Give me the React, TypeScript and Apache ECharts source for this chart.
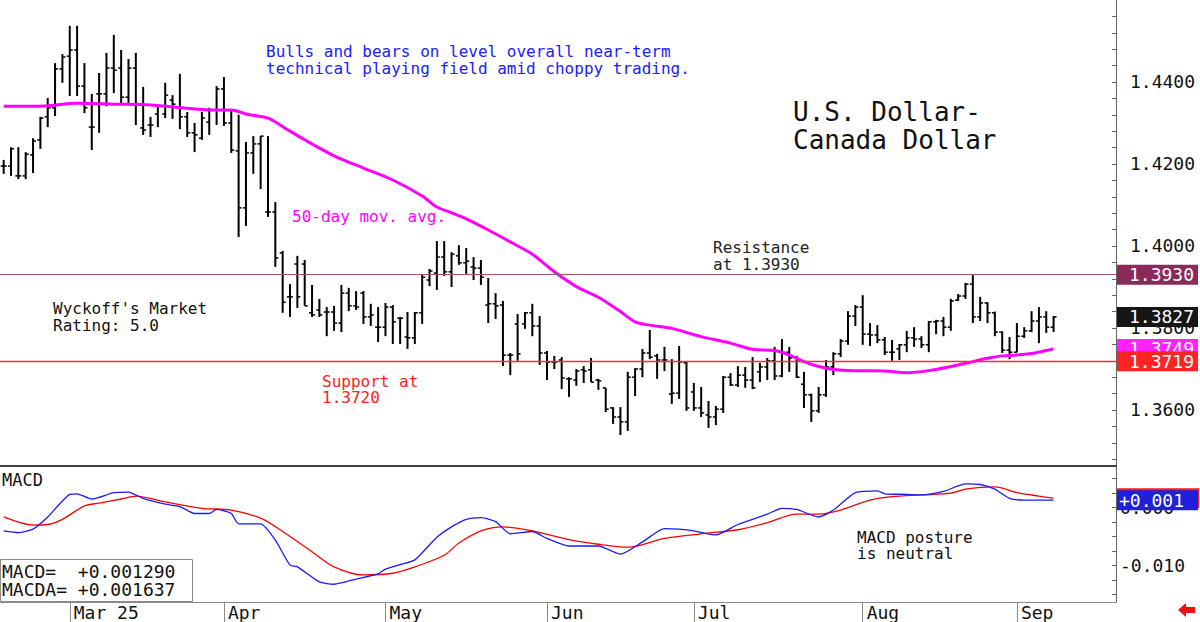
import React, { useEffect, useRef } from "react";
import * as echarts from "echarts";

// ---- DATA ----
const slotCount = 152; // trading-day slots across the plot (bars + empty room on the right)
const categories = Array.from({ length: slotCount }, (_, i) => String(i));
const monthLabels = ["Mar 25", "Apr", "May", "Jun", "Jul", "Aug", "Sep"];
const monthStartIdx = [9, 30, 52, 74, 94, 117, 138];

const opens = [
  1.4195, 1.4195, 1.4171, 1.4171, 1.4222, 1.4259, 1.4315, 1.4337, 1.4432, 1.4463,
  1.4478, 1.4390, 1.4290, 1.4371, 1.4371, 1.4434, 1.4434, 1.4363, 1.4434, 1.4288,
  1.4295, 1.4322, 1.4322, 1.4356, 1.4339, 1.4315, 1.4276, 1.4263, 1.4302, 1.4332,
  1.4383, 1.4300, 1.4232, 1.4093, 1.4227, 1.4249, 1.4083, 1.4083, 1.3983, 1.3876,
  1.3956, 1.3956, 1.3837, 1.3844, 1.3839, 1.3839, 1.3812, 1.3885, 1.3854, 1.3885,
  1.3827, 1.3802, 1.3802, 1.3851, 1.3824, 1.3778, 1.3776, 1.3837, 1.3917, 1.3934,
  1.3973, 1.3937, 1.3976, 1.3959, 1.3949, 1.3946, 1.3856, 1.3859, 1.3856, 1.3734,
  1.3810, 1.3810, 1.3837, 1.3805, 1.3739, 1.3717, 1.3722, 1.3676, 1.3673, 1.3698,
  1.3698, 1.3673, 1.3654, 1.3605, 1.3583, 1.3571, 1.3680, 1.3700, 1.3739, 1.3732,
  1.3722, 1.3639, 1.3641, 1.3715, 1.3644, 1.3605, 1.3588, 1.3583, 1.3602, 1.3680,
  1.3661, 1.3685, 1.3673, 1.3693, 1.3705, 1.3720, 1.3683, 1.3741, 1.3727, 1.3663,
  1.3637, 1.3598, 1.3637, 1.3705, 1.3737, 1.3768, 1.3829, 1.3851, 1.3785, 1.3783,
  1.3771, 1.3741, 1.3749, 1.3759, 1.3776, 1.3773, 1.3759, 1.3815, 1.3817, 1.3802,
  1.3868, 1.3878, 1.3907, 1.3827, 1.3861, 1.3837, 1.3790, 1.3746, 1.3741, 1.3780,
  1.3793, 1.3817, 1.3827, 1.3802,
];
const highs = [
  1.4210, 1.4241, 1.4241, 1.4229, 1.4263, 1.4315, 1.4361, 1.4446, 1.4468, 1.4537,
  1.4537, 1.4446, 1.4371, 1.4422, 1.4471, 1.4515, 1.4478, 1.4456, 1.4471, 1.4388,
  1.4315, 1.4341, 1.4398, 1.4368, 1.4420, 1.4327, 1.4300, 1.4327, 1.4337, 1.4390,
  1.4412, 1.4332, 1.4320, 1.4254, 1.4268, 1.4268, 1.4268, 1.4107, 1.3988, 1.3907,
  1.3976, 1.3966, 1.3905, 1.3871, 1.3851, 1.3854, 1.3905, 1.3898, 1.3890, 1.3890,
  1.3859, 1.3851, 1.3861, 1.3856, 1.3827, 1.3839, 1.3839, 1.3932, 1.3944, 1.4012,
  1.4012, 1.3985, 1.4002, 1.3995, 1.3973, 1.3966, 1.3922, 1.3885, 1.3866, 1.3739,
  1.3834, 1.3839, 1.3859, 1.3829, 1.3744, 1.3732, 1.3729, 1.3680, 1.3700, 1.3707,
  1.3727, 1.3676, 1.3654, 1.3607, 1.3607, 1.3693, 1.3702, 1.3749, 1.3795, 1.3737,
  1.3754, 1.3724, 1.3756, 1.3717, 1.3666, 1.3656, 1.3622, 1.3610, 1.3683, 1.3690,
  1.3707, 1.3705, 1.3729, 1.3715, 1.3727, 1.3754, 1.3773, 1.3754, 1.3732, 1.3693,
  1.3640, 1.3656, 1.3722, 1.3741, 1.3773, 1.3841, 1.3856, 1.3880, 1.3812, 1.3807,
  1.3778, 1.3771, 1.3761, 1.3793, 1.3802, 1.3780, 1.3817, 1.3820, 1.3827, 1.3871,
  1.3883, 1.3910, 1.3929, 1.3876, 1.3863, 1.3840, 1.3792, 1.3778, 1.3812, 1.3802,
  1.3841, 1.3851, 1.3841, 1.3829,
];
const lows = [
  1.4176, 1.4171, 1.4163, 1.4163, 1.4178, 1.4237, 1.4290, 1.4317, 1.4398, 1.4366,
  1.4366, 1.4324, 1.4234, 1.4276, 1.4341, 1.4373, 1.4349, 1.4349, 1.4295, 1.4271,
  1.4266, 1.4290, 1.4312, 1.4310, 1.4285, 1.4266, 1.4229, 1.4259, 1.4271, 1.4295,
  1.4293, 1.4227, 1.4022, 1.4049, 1.4176, 1.4139, 1.4071, 1.3949, 1.3837, 1.3827,
  1.3849, 1.3854, 1.3827, 1.3827, 1.3780, 1.3793, 1.3790, 1.3841, 1.3844, 1.3810,
  1.3805, 1.3766, 1.3780, 1.3761, 1.3761, 1.3749, 1.3761, 1.3810, 1.3902, 1.3893,
  1.3927, 1.3900, 1.3954, 1.3932, 1.3917, 1.3905, 1.3812, 1.3822, 1.3707, 1.3685,
  1.3720, 1.3798, 1.3780, 1.3710, 1.3673, 1.3700, 1.3651, 1.3632, 1.3659, 1.3666,
  1.3668, 1.3649, 1.3595, 1.3566, 1.3539, 1.3549, 1.3634, 1.3680, 1.3724, 1.3676,
  1.3695, 1.3615, 1.3627, 1.3598, 1.3598, 1.3583, 1.3556, 1.3563, 1.3593, 1.3659,
  1.3656, 1.3654, 1.3651, 1.3668, 1.3673, 1.3673, 1.3680, 1.3693, 1.3678, 1.3605,
  1.3571, 1.3593, 1.3632, 1.3685, 1.3729, 1.3759, 1.3805, 1.3759, 1.3756, 1.3763,
  1.3734, 1.3720, 1.3722, 1.3741, 1.3754, 1.3751, 1.3741, 1.3785, 1.3780, 1.3793,
  1.3866, 1.3871, 1.3812, 1.3817, 1.3812, 1.3780, 1.3739, 1.3724, 1.3741, 1.3776,
  1.3790, 1.3763, 1.3788, 1.3790,
];
const closes = [
  1.4195, 1.4237, 1.4171, 1.4224, 1.4256, 1.4312, 1.4337, 1.4432, 1.4461, 1.4478,
  1.4390, 1.4337, 1.4290, 1.4371, 1.4434, 1.4429, 1.4363, 1.4434, 1.4346, 1.4283,
  1.4295, 1.4341, 1.4368, 1.4346, 1.4315, 1.4276, 1.4271, 1.4312, 1.4332, 1.4383,
  1.4300, 1.4234, 1.4093, 1.4227, 1.4249, 1.4268, 1.4083, 1.3971, 1.3863, 1.3876,
  1.3876, 1.3854, 1.3832, 1.3832, 1.3839, 1.3812, 1.3885, 1.3854, 1.3851, 1.3827,
  1.3832, 1.3802, 1.3851, 1.3815, 1.3824, 1.3776, 1.3837, 1.3924, 1.3939, 1.3973,
  1.3937, 1.3980, 1.3959, 1.3963, 1.3946, 1.3924, 1.3859, 1.3854, 1.3734, 1.3734,
  1.3737, 1.3837, 1.3805, 1.3739, 1.3717, 1.3717, 1.3678, 1.3676, 1.3695, 1.3695,
  1.3668, 1.3671, 1.3602, 1.3583, 1.3571, 1.3680, 1.3700, 1.3739, 1.3729, 1.3722,
  1.3722, 1.3641, 1.3717, 1.3605, 1.3605, 1.3593, 1.3583, 1.3602, 1.3680, 1.3661,
  1.3685, 1.3673, 1.3654, 1.3705, 1.3720, 1.3683, 1.3741, 1.3727, 1.3680, 1.3637,
  1.3598, 1.3637, 1.3705, 1.3737, 1.3768, 1.3829, 1.3851, 1.3785, 1.3783, 1.3771,
  1.3741, 1.3741, 1.3759, 1.3776, 1.3773, 1.3759, 1.3815, 1.3817, 1.3802, 1.3866,
  1.3878, 1.3907, 1.3827, 1.3861, 1.3837, 1.3790, 1.3746, 1.3741, 1.3780, 1.3793,
  1.3817, 1.3827, 1.3802, 1.3827,
];

// 50-day moving average, read at sample days
const maIdx = [0, 5, 10, 15, 20, 25, 28, 31, 33, 36, 38, 41, 45, 49, 53, 57, 59, 61, 63, 66, 69, 72, 75, 78, 81, 84, 86, 88, 91, 95, 99, 102, 105, 107, 109, 111, 113, 116, 120, 123, 126, 129, 132, 134, 136, 138, 140, 142, 143];
const maVal = [1.4341, 1.4341, 1.4348, 1.4346, 1.4344, 1.4336, 1.4332, 1.4332, 1.4322, 1.4312, 1.4291, 1.4259, 1.4220, 1.4190, 1.4161, 1.4122, 1.4095, 1.4081, 1.4066, 1.4039, 1.4010, 1.3980, 1.3937, 1.3901, 1.3875, 1.3840, 1.3815, 1.3807, 1.3799, 1.3779, 1.3763, 1.3748, 1.3745, 1.3734, 1.3718, 1.3706, 1.3699, 1.3696, 1.3695, 1.3691, 1.3696, 1.3706, 1.3718, 1.3726, 1.3732, 1.3734, 1.3738, 1.3745, 1.3749];

// MACD (blue) and MACD average (red)
const macdIdx = [0, 2, 4, 6, 9, 10, 12, 15, 17, 19, 22, 24, 26, 28, 29, 31, 32, 35, 37, 39, 40, 43, 45, 48, 51, 52, 54, 56, 59, 61, 63, 65, 67, 69, 72, 74, 77, 81, 84, 87, 90, 92, 94, 97, 100, 104, 106, 108, 111, 113, 116, 119, 120, 123, 125, 128, 131, 133, 135, 137, 139, 143];
const macdVal = [-0.0040, -0.0043, -0.0037, -0.0016, 0.0023, 0.0024, 0.0015, 0.0026, 0.0027, 0.0016, 0.0006, 0.0002, -0.0010, -0.0010, -0.0003, -0.0010, -0.0028, -0.0028, -0.0056, -0.0099, -0.0102, -0.0128, -0.0132, -0.0123, -0.0114, -0.0106, -0.0098, -0.0090, -0.0051, -0.0033, -0.0020, -0.0017, -0.0024, -0.0045, -0.0041, -0.0053, -0.0066, -0.0066, -0.0080, -0.0059, -0.0036, -0.0037, -0.0040, -0.0047, -0.0029, -0.0011, -0.0001, -0.0003, -0.0016, -0.0004, 0.0026, 0.0029, 0.0024, 0.0023, 0.0022, 0.0028, 0.0041, 0.0040, 0.0032, 0.0016, 0.0013, 0.00129];
const signalIdx = [0, 4, 6, 8, 11, 13, 16, 18, 22, 27, 31, 35, 38, 42, 45, 49, 53, 56, 60, 62, 65, 68, 72, 77, 81, 85, 90, 95, 100, 104, 108, 111, 114, 118, 121, 125, 129, 131, 135, 138, 141, 143];
const signalVal = [-0.0016, -0.0030, -0.0029, -0.0020, 0.0003, 0.0008, 0.0015, 0.0020, 0.0010, -0.0001, -0.0004, -0.0018, -0.0041, -0.0076, -0.0102, -0.0116, -0.0113, -0.0102, -0.0082, -0.0061, -0.0040, -0.0033, -0.0040, -0.0055, -0.0063, -0.0068, -0.0053, -0.0045, -0.0038, -0.0026, -0.0011, -0.0011, -0.0004, 0.0013, 0.0019, 0.0022, 0.0025, 0.0032, 0.0036, 0.0026, 0.0020, 0.001637];

const resistanceLevel = 1.393;
const supportLevel = 1.3719;
const lastClose = 1.3827;
const lastMA = 1.3749;
const lastMACD = 0.00129;
const lastMACDA = 0.001637;

const priceLabels = [1.36, 1.38, 1.4, 1.42, 1.44];
const priceTicks = [1.348, 1.352, 1.356, 1.36, 1.364, 1.368, 1.372, 1.376, 1.38, 1.384, 1.388, 1.392, 1.396, 1.4, 1.404, 1.408, 1.412, 1.416, 1.42, 1.424, 1.428, 1.432, 1.436, 1.44, 1.444, 1.448, 1.452, 1.456];
const macdLabels = [-0.01, 0];
const macdTicks = [-0.015, -0.0125, -0.01, -0.0075, -0.005, -0.0025, 0, 0.0025, 0.005];

const MONO = "'DejaVu Sans Mono', monospace";

export default function App() {
  const ref = useRef<HTMLDivElement>(null);
  useEffect(() => {
    if (!ref.current) return;
    const chart = echarts.init(ref.current, null, { renderer: "svg" });
    const ohlc = opens.map((o, i) => [i, o, highs[i], lows[i], closes[i]]);
    const ma = maIdx.map((d, k) => [d, maVal[k]]);
    const macd = macdIdx.map((d, k) => [d, macdVal[k]]);
    const sig = signalIdx.map((d, k) => [d, signalVal[k]]);

    const boxLabel = (text: string, bg: string) => ({
      show: true,
      position: "end",
      distance: 1,
      formatter: text,
      color: "#fff",
      backgroundColor: bg,
      padding: [1, 4, 1, 12],
      fontFamily: MONO,
      fontSize: 18,
      lineHeight: 18,
    });
    const hidden = { color: "rgba(0,0,0,0)", width: 0 };

    // a horizontal level on the price pane, drawn as a markLine of an otherwise empty series
    const levelSeries = (value: number, text: string, bg: string, lineColor: string, lineWidth: number, z: number) => ({
      type: "line",
      xAxisIndex: 0,
      yAxisIndex: 0,
      data: [],
      z,
      color: lineColor,
      itemStyle: { color: lineColor },
      lineStyle: { color: lineColor },
      markLine: {
        silent: true,
        precision: 4,
        symbol: ["none", "none"],
        lineStyle: { color: lineColor, width: lineWidth, type: "solid", opacity: 1 },
        data: [
          {
            yAxis: value,
            lineStyle: { color: lineColor, width: lineWidth, type: "solid", opacity: 1 },
            label: boxLabel(text, bg),
          },
        ],
      },
    });

    const txt = (text: string, x: number, y: number, size: number, fill: string) => ({
      type: "text",
      x,
      y,
      z: 20,
      style: { text, fill, font: `${size}px ${MONO}`, verticalAlign: "middle" },
    });

    const option: any = {
      animation: false,
      backgroundColor: "#fff",
      grid: [
        { left: 0, top: 0, width: 1116, height: 466 },
        { left: 0, top: 466, width: 1116, height: 136 },
      ],
      xAxis: [
        {
          type: "category",
          gridIndex: 0,
          data: categories,
          boundaryGap: true,
          axisLine: { show: true, onZero: false, lineStyle: { color: "#000", width: 1.5 } },
          axisTick: { show: false },
          axisLabel: { show: false },
          splitLine: { show: false },
        },
        {
          type: "category",
          gridIndex: 1,
          data: categories,
          boundaryGap: true,
          axisLine: { show: true, onZero: false, lineStyle: { color: "#8a8a8a", width: 1 } },
          axisTick: {
            show: true,
            alignWithLabel: true,
            length: 20,
            interval: (i: number) => monthStartIdx.includes(i),
            lineStyle: { color: "#8a8a8a" },
          },
          axisLabel: {
            show: true,
            interval: (i: number) => monthStartIdx.includes(i),
            formatter: (v: string) => {
              const k = monthStartIdx.indexOf(Number(v));
              return k >= 0 ? monthLabels[k] : "";
            },
            align: "left",
            padding: [0, 0, 0, 4],
            margin: 1,
            color: "#111",
            fontFamily: MONO,
            fontSize: 18,
            lineHeight: 18,
          },
          splitLine: { show: false },
        },
      ],
      yAxis: [
        {
          type: "value",
          gridIndex: 0,
          position: "right",
          min: 1.34634,
          max: 1.46,
          axisLine: { show: true, lineStyle: { color: "#666" } },
          axisTick: { show: true, inside: true, length: 4, customValues: priceTicks, lineStyle: { color: "#666" } },
          axisLabel: {
            customValues: priceLabels,
            formatter: (v: number) => v.toFixed(4),
            margin: 14,
            color: "#111",
            fontFamily: MONO,
            fontSize: 18,
          },
          splitLine: { show: false },
        },
        {
          type: "value",
          gridIndex: 1,
          position: "right",
          min: -0.01626,
          max: 0.00719,
          axisLine: { show: true, lineStyle: { color: "#666" } },
          axisTick: { show: true, inside: true, length: 4, customValues: macdTicks, lineStyle: { color: "#666" } },
          axisLabel: {
            customValues: macdLabels,
            formatter: (v: number) => v.toFixed(3),
            margin: 4,
            color: "#111",
            fontFamily: MONO,
            fontSize: 18,
          },
          splitLine: { show: false },
        },
      ],
      series: [
        {
          type: "custom",
          xAxisIndex: 0,
          yAxisIndex: 0,
          data: ohlc,
          encode: { x: 0, y: [1, 2, 3, 4] },
          z: 3,
          renderItem: (params: any, api: any) => {
            const i = api.value(0);
            const pO = api.coord([i, api.value(1)]);
            const pH = api.coord([i, api.value(2)]);
            const pL = api.coord([i, api.value(3)]);
            const pC = api.coord([i, api.value(4)]);
            const x = pH[0];
            const st = { stroke: "#000", lineWidth: 2 };
            const tk = { stroke: "#000", lineWidth: 1.5 };
            return {
              type: "group",
              children: [
                { type: "line", shape: { x1: x, y1: pH[1], x2: x, y2: pL[1] }, style: st },
                { type: "line", shape: { x1: x - 3, y1: pO[1], x2: x, y2: pO[1] }, style: tk },
                { type: "line", shape: { x1: x, y1: pC[1], x2: x + 3, y2: pC[1] }, style: tk },
              ],
            };
          },
        },
        levelSeries(resistanceLevel, "1.3930", "#8b2a5a", "#a2506f", 1, 2),
        {
          type: "line",
          xAxisIndex: 0,
          yAxisIndex: 0,
          data: ma,
          showSymbol: false,
          smooth: 0.3,
          z: 4,
          lineStyle: { color: "#ff00ff", width: 3 },
          markLine: {
            silent: true,
            precision: 4,
            symbol: ["none", "none"],
            data: [
              { yAxis: lastClose, lineStyle: hidden, label: boxLabel("1.3827", "#161616") },
              { yAxis: lastMA, lineStyle: hidden, label: boxLabel("1.3749", "#ff22ff") },
            ],
          },
        },
        levelSeries(supportLevel, "1.3719", "#ff2424", "#ff2a2a", 1.3, 5),
        {
          type: "line",
          xAxisIndex: 1,
          yAxisIndex: 1,
          data: sig,
          showSymbol: false,
          smooth: 0.3,
          z: 3,
          lineStyle: { color: "#ff0000", width: 1.3 },
        },
        {
          type: "line",
          xAxisIndex: 1,
          yAxisIndex: 1,
          data: macd,
          showSymbol: false,
          smooth: 0.2,
          z: 4,
          lineStyle: { color: "#1a1aff", width: 1.3 },
          markLine: {
            silent: true,
            precision: 6,
            symbol: ["none", "none"],
            data: [
              {
                yAxis: lastMACDA,
                lineStyle: hidden,
                label: {
                  show: true,
                  position: "end",
                  distance: 1,
                  formatter: "{a|}",
                  rich: { a: { width: 82, height: 20, backgroundColor: "#ff1a1a" } },
                },
              },
              { yAxis: lastMACD, lineStyle: hidden, label: { ...boxLabel("+0.001", "#2020d8"), padding: [1, 14, 1, 2] } },
            ],
          },
        },
      ],
      graphic: [
        txt("Bulls and bears on level overall near-term", 266, 51, 16, "#2020ff"),
        txt("technical playing field amid choppy trading.", 266, 68, 16, "#2020ff"),
        txt("U.S. Dollar-", 793, 112, 26, "#111"),
        txt("Canada Dollar", 793, 140, 26, "#111"),
        txt("50-day mov. avg.", 292, 216, 16, "#ff00ff"),
        txt("Resistance", 713, 247, 16, "#222"),
        txt("at 1.3930", 713, 264, 16, "#222"),
        txt("Wyckoff's Market", 53, 308, 16, "#111"),
        txt("Rating: 5.0", 53, 325, 16, "#111"),
        txt("Support at", 322, 381, 16, "#ff2020"),
        txt("1.3720", 322, 397, 16, "#ff2020"),
        txt("MACD posture", 857, 537, 16, "#111"),
        txt("is neutral", 857, 553, 16, "#111"),
        txt("MACD", 2, 480, 17, "#111"),
        {
          type: "rect",
          z: 15,
          shape: { x: 0.5, y: 559.5, width: 192, height: 42 },
          style: { fill: "#fff", stroke: "#8a8a8a", lineWidth: 1 },
        },
        txt("MACD=  +0.001290", 2, 571, 18, "#111"),
        txt("MACDA= +0.001637", 2, 589, 18, "#111"),
        {
          type: "polygon",
          z: 20,
          shape: {
            points: [
              [1178, 610], [1186, 603], [1186, 607], [1195, 607], [1195, 613], [1186, 613], [1186, 617],
            ],
          },
          style: { fill: "#ee1111" },
        },
      ],
    };
    chart.setOption(option);
    return () => chart.dispose();
  }, []);
  return (
    <div
      ref={ref}
      style={{ position: "fixed", left: 0, top: 0, width: 1200, height: 622, background: "#fff" }}
    />
  );
}
